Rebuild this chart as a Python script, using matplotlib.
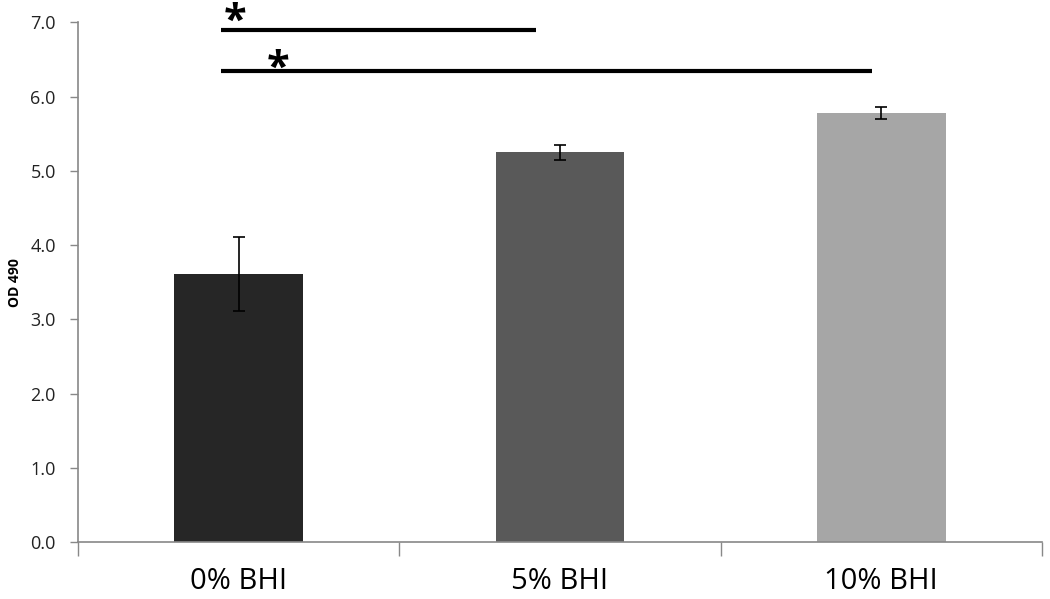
import numpy as np
import matplotlib.pyplot as plt

plt.rcParams['font.family'] = ['Open Sans', 'DejaVu Sans']

# Data
categories = ['0% BHI', '5% BHI', '10% BHI']
od490 = [3.61, 5.25, 5.78]
od490_err = [0.50, 0.10, 0.085]
bar_colors = ['#262626', '#595959', '#a6a6a6']

# significance brackets: (start x, end x, y, star x, star y)
sig_lines = [(-0.055, 0.925, 6.90, -0.011, 6.72),
             (-0.055, 1.97, 6.34, 0.122, 6.09)]

fig = plt.figure(figsize=(10.5, 5.99), dpi=100)
ax = fig.add_axes([0.0743, 0.0947, 0.918, 0.868])

x = np.arange(len(categories))
ax.bar(x, od490, width=0.4, color=bar_colors, zorder=2)
ax.errorbar(x, od490, yerr=od490_err, fmt='none', ecolor='black',
            elinewidth=1.2, capsize=4, capthick=1.2, zorder=3)

for x0, x1, y, sx, sy in sig_lines:
    ax.plot([x0, x1], [y, y], color='black', linewidth=3, solid_capstyle='butt',
            clip_on=False)
    ax.text(sx, sy, '*', fontsize=30, fontweight='bold', ha='center', va='bottom',
            clip_on=False)

ax.set_xlim(-0.5, 2.5)
ax.set_ylim(0, 7)
ax.set_yticks(np.arange(0, 7.1, 1.0))
ax.set_yticklabels([f'{v:.1f}' for v in np.arange(0, 7.1, 1.0)], fontsize=13,
                   color='#222222')
ax.set_xticks(x)
ax.set_xticklabels(categories, fontsize=21)
ax.tick_params(axis='x', length=0, pad=18)
ax.set_xticks([-0.5, 0.5, 1.5, 2.5], minor=True)
ax.tick_params(axis='x', which='minor', length=10, color='#888888', width=1)
ax.tick_params(axis='y', length=6, color='#888888', width=1, pad=10)

for s in ['top', 'right']:
    ax.spines[s].set_visible(False)
for s in ['left', 'bottom']:
    ax.spines[s].set_color('#888888')
    ax.spines[s].set_linewidth(1.2)

ax.set_ylabel('OD 490', fontsize=10, fontweight='bold', labelpad=6)

plt.savefig('out.png', dpi=100)
